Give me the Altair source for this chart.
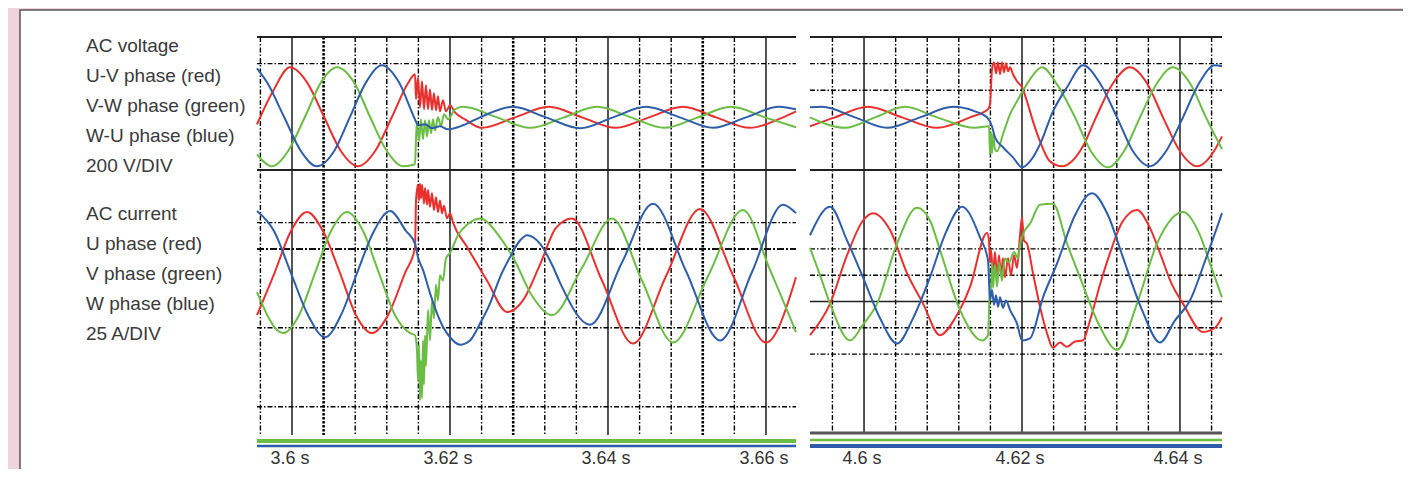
import altair as alt
import pandas as pd

PINK = "#efd3dd"
RED, GREEN, BLUE = "#e8312f", "#6cbd45", "#2e5ea9"
FONT = "Liberation Sans"

# ---------------- data ----------------
left_time_domain = [3.59557, 3.66380]     # s
right_time_domain = [4.59316, 4.64532]    # s
voltage_domain = [-400, 600]              # V  (200 V/DIV)
current_domain = [-150, 100]              # A  (25 A/DIV)

voltage_labels = ["AC voltage", "U-V phase (red)", "V-W phase (green)", "W-U phase (blue)", "200 V/DIV"]
current_labels = ["AC current", "U phase (red)", "V phase (green)", "W phase (blue)", "25 A/DIV"]

left_ticks = [3.60, 3.62, 3.64, 3.66]
left_tick_labels = ["3.6 s", "3.62 s", "3.64 s", "3.66 s"]
right_ticks = [4.60, 4.62, 4.64]
right_tick_labels = ["4.6 s", "4.62 s", "4.64 s"]
left_minor = [3.596, 3.608, 3.612, 3.616, 3.624, 3.632, 3.636, 3.644, 3.648, 3.656]
left_heavy = [3.604, 3.628, 3.652]
right_minor = [4.596, 4.604, 4.608, 4.612, 4.616, 4.624, 4.628, 4.632, 4.636, 4.644]

# left window, AC voltage (t [s], V)
lv_red = [(3.59557, -56), (3.59759, 192), (3.59975, 372), (3.60190, 259), (3.60405, 0), (3.60620, -259),
          (3.60835, -372), (3.61051, -259), (3.61266, 0), (3.61468, 252), (3.61557, 320), (3.61570, 132),
          (3.61595, 297), (3.61620, 71), (3.61646, 267), (3.61671, 56), (3.61696, 237), (3.61722, 56),
          (3.61747, 207), (3.61772, 49), (3.61797, 177), (3.61823, 49), (3.61848, 154), (3.61873, 41),
          (3.61911, 124), (3.61949, 41), (3.62000, 86), (3.62063, 34), (3.62190, -19), (3.62405, -83),
          (3.62823, -4), (3.63253, 75), (3.63671, -4), (3.64101, -83), (3.64519, -4), (3.64949, 75),
          (3.65367, -4), (3.65797, -83), (3.66215, -4), (3.66380, 41)]
lv_green = [(3.59557, -282), (3.59747, -372), (3.59949, -259), (3.60165, 0), (3.60367, 259), (3.60570, 372),
            (3.60785, 259), (3.60987, 0), (3.61203, -259), (3.61405, -372), (3.61557, -357), (3.61570, -169),
            (3.61582, -34), (3.61608, -184), (3.61633, -19), (3.61658, -169), (3.61684, -26), (3.61709, -147),
            (3.61734, -26), (3.61759, -124), (3.61785, -19), (3.61810, -102), (3.61848, -4), (3.61886, -71),
            (3.61924, 19), (3.61975, -19), (3.62063, 56), (3.62165, 75), (3.62595, -4), (3.63013, -83),
            (3.63443, -4), (3.63861, 75), (3.64291, -4), (3.64709, -83), (3.65139, -4), (3.65557, 75),
            (3.65987, -4), (3.66380, -79)]
lv_blue = [(3.59557, 365), (3.59684, 259), (3.59899, 0), (3.60114, -259), (3.60316, -372), (3.60532, -259),
           (3.60734, 0), (3.60937, 259), (3.61139, 387), (3.61354, 259), (3.61557, -19), (3.61595, -64),
           (3.61684, -56), (3.61772, -86), (3.61873, -71), (3.61975, -94), (3.62165, -64), (3.62380, -4),
           (3.62797, 75), (3.63215, -4), (3.63646, -86), (3.64063, -4), (3.64481, 75), (3.64911, -4),
           (3.65329, -83), (3.65747, -4), (3.66165, 75), (3.66380, 56)]

# left window, AC current (t [s], A)
li_red = [(3.59557, -38), (3.59778, 2), (3.59987, 42), (3.60190, 60), (3.60392, 42), (3.60608, 2),
          (3.60810, -38), (3.61013, -55), (3.61215, -38), (3.61430, 2), (3.61557, 26), (3.61570, 71),
          (3.61595, 86), (3.61608, 71), (3.61620, 87), (3.61633, 73), (3.61646, 86), (3.61671, 68),
          (3.61684, 83), (3.61709, 67), (3.61722, 81), (3.61747, 65), (3.61772, 78), (3.61797, 62),
          (3.61823, 74), (3.61848, 60), (3.61873, 71), (3.61899, 59), (3.61924, 66), (3.61962, 54),
          (3.62000, 59), (3.62038, 50), (3.62215, 27), (3.62468, -5), (3.62722, -35), (3.62924, -24),
          (3.63139, 10), (3.63342, 45), (3.63544, 54), (3.63924, -5), (3.64316, -65), (3.64734, -1),
          (3.65165, 63), (3.65582, 0), (3.66000, -64), (3.66380, -2)]
li_green = [(3.59557, -16), (3.59886, -55), (3.60089, -38), (3.60291, 2), (3.60494, 42), (3.60696, 60),
            (3.60899, 42), (3.61101, 2), (3.61304, -38), (3.61494, -55), (3.61557, -57), (3.61582, -71),
            (3.61595, -100), (3.61608, -66), (3.61620, -119), (3.61633, -81), (3.61646, -117), (3.61658, -62),
            (3.61671, -104), (3.61684, -57), (3.61696, -86), (3.61722, -33), (3.61747, -62), (3.61772, -24),
            (3.61797, -41), (3.61823, -9), (3.61848, -24), (3.61873, 0), (3.61911, -5), (3.61949, 16),
            (3.62000, 21), (3.62101, 38), (3.62215, 48), (3.62380, 54), (3.62633, 36), (3.62797, 17),
            (3.63051, -21), (3.63291, -38), (3.63671, 7), (3.64051, 54), (3.64430, -5), (3.64823, -64),
            (3.65266, -1), (3.65709, 62), (3.66051, 5), (3.66380, -54)]
li_blue = [(3.59557, 61), (3.59772, 42), (3.59987, 2), (3.60203, -38), (3.60418, -59), (3.60620, -38),
           (3.60823, 2), (3.61038, 42), (3.61241, 61), (3.61443, 42), (3.61557, 30), (3.61595, 17),
           (3.61658, 5), (3.61747, -17), (3.61835, -36), (3.61911, -49), (3.62000, -59), (3.62127, -66),
           (3.62253, -62), (3.62380, -46), (3.62506, -27), (3.62633, -2), (3.62759, 17), (3.62886, 33),
           (3.62975, 38), (3.63139, 30), (3.63304, 8), (3.63392, -7), (3.63772, -47), (3.64177, 12),
           (3.64570, 68), (3.64987, 4), (3.65418, -62), (3.65823, 3), (3.66215, 67), (3.66380, 59)]

# right window, AC voltage
rv_red = [(4.59316, -71), (4.59633, -4), (4.60051, 75), (4.60481, -4), (4.60924, -83), (4.61342, -4),
          (4.61570, 56), (4.61595, 94), (4.61620, 357), (4.61646, 410), (4.61671, 327), (4.61696, 410),
          (4.61722, 320), (4.61747, 410), (4.61772, 335), (4.61797, 402), (4.61823, 342), (4.61848, 372),
          (4.61886, 320), (4.61937, 267), (4.62000, 222), (4.62063, 117), (4.62139, -34), (4.62228, -184),
          (4.62354, -335), (4.62506, -372), (4.62772, -222), (4.62937, -4), (4.63152, 252), (4.63367, 372),
          (4.63582, 252), (4.63785, -4), (4.64000, -259), (4.64215, -372), (4.64430, -259), (4.64532, -147)]
rv_green = [(4.59316, -4), (4.59759, -83), (4.60139, -4), (4.60519, 75), (4.60924, -4), (4.61405, -83),
            (4.61582, -71), (4.61595, -282), (4.61608, -116), (4.61620, -274), (4.61633, -131), (4.61658, -244),
            (4.61684, -259), (4.61759, -131), (4.61848, 19), (4.61937, 117), (4.62000, 184), (4.62101, 282),
            (4.62253, 372), (4.62443, 244), (4.62671, -4), (4.62873, -259), (4.63089, -380), (4.63291, -259),
            (4.63494, -4), (4.63709, 252), (4.63911, 372), (4.64127, 252), (4.64329, -4), (4.64532, -244)]
rv_blue = [(4.59316, 71), (4.59468, 75), (4.59886, -4), (4.60291, -83), (4.60709, -4), (4.61127, 75),
           (4.61405, 41), (4.61557, -4), (4.61620, -71), (4.61658, -154), (4.61759, -229), (4.61886, -305),
           (4.62000, -380), (4.62101, -335), (4.62228, -207), (4.62392, 41), (4.62570, 222), (4.62772, 387),
           (4.62987, 252), (4.63203, -4), (4.63405, -259), (4.63620, -372), (4.63823, -259), (4.64038, -4),
           (4.64241, 252), (4.64443, 387), (4.64532, 380)]

# right window, AC current
ri_red = [(4.59316, -57), (4.59570, -27), (4.59785, 19), (4.59987, 52), (4.60114, 59), (4.60329, 43),
          (4.60544, 2), (4.60747, -27), (4.60962, -57), (4.61152, -41), (4.61342, -11), (4.61557, 40),
          (4.61582, 33), (4.61595, 12), (4.61608, 24), (4.61633, 0), (4.61658, 22), (4.61684, -2),
          (4.61709, 19), (4.61734, 0), (4.61759, 16), (4.61785, -2), (4.61823, 16), (4.61861, 0),
          (4.61899, 19), (4.61937, 7), (4.61975, 38), (4.62000, 55), (4.62025, 33), (4.62063, 30),
          (4.62139, 2), (4.62228, -30), (4.62316, -55), (4.62392, -69), (4.62481, -64), (4.62570, -68),
          (4.62671, -63), (4.62772, -62), (4.62861, -43), (4.62987, -9), (4.63114, 21), (4.63266, 50),
          (4.63456, 62), (4.63620, 45), (4.63747, 21), (4.63899, -9), (4.64038, -27), (4.64291, -54),
          (4.64443, -50), (4.64532, -40)]
ri_green = [(4.59316, 26), (4.59443, 0), (4.59570, -27), (4.59823, -62), (4.59987, -47), (4.60165, -27),
            (4.60418, 30), (4.60671, 64), (4.60835, 52), (4.60962, 24), (4.61215, -33), (4.61494, -62),
            (4.61570, -57), (4.61595, -9), (4.61608, -14), (4.61620, 12), (4.61633, -12), (4.61658, 10),
            (4.61684, -11), (4.61709, 12), (4.61747, -5), (4.61785, 16), (4.61835, 12), (4.61899, 22),
            (4.61949, 16), (4.61975, 29), (4.62025, 41), (4.62101, 49), (4.62228, 67), (4.62392, 68),
            (4.62570, 30), (4.62734, -2), (4.62987, -49), (4.63203, -71), (4.63456, -27), (4.63709, 30),
            (4.64038, 60), (4.64253, 38), (4.64380, 11), (4.64532, -21)]
ri_blue = [(4.59316, 38), (4.59570, 65), (4.59785, 33), (4.59987, -2), (4.60203, -41), (4.60418, -65),
           (4.60620, -41), (4.60835, -2), (4.61038, 41), (4.61241, 65), (4.61468, 36), (4.61570, 14),
           (4.61595, -24), (4.61620, -14), (4.61646, -28), (4.61671, -19), (4.61696, -30), (4.61722, -21),
           (4.61759, -31), (4.61797, -24), (4.61848, -33), (4.61937, -46), (4.62000, -62), (4.62101, -60),
           (4.62266, -21), (4.62443, 11), (4.62671, 57), (4.62886, 78), (4.63089, 57), (4.63278, 17),
           (4.63519, -33), (4.63747, -64), (4.63937, -43), (4.64127, -24), (4.64329, 16), (4.64532, 59)]

# grid levels (in V / A)
left_v_solid = [600, -400]
left_v_dash = [400]
left_i_dash = [50, -50, -125]
left_i_dashdot = [25]
right_v_solid = [600, -400]
right_v_dash = [400, 200]
right_i_dash = [25, 0, -50, -75]
right_i_solid = [-25]
right_i_bottom = [-150]

# ---------------- scales (pixel placement) ----------------
def sc(domain, rng):
    return alt.Scale(domain=domain, range=rng, nice=False, zero=False)

LX = sc(left_time_domain, [249, 788])
RX = sc(right_time_domain, [802, 1214])
VY = sc(voltage_domain, [162, 29])
IY = sc(current_domain, [425, 162])

PH = alt.Scale(domain=["U", "V", "W"], range=[RED, GREEN, BLUE])


def traces(red, green, blue, xs, ys):
    rows = []
    for ph, pts in (("U", red), ("V", green), ("W", blue)):
        for i, (t, v) in enumerate(pts):
            rows.append({"t": t, "v": v, "phase": ph, "i": i})
    return alt.Chart(pd.DataFrame(rows)).mark_line(
        strokeWidth=2, interpolate="monotone", strokeJoin="round"
    ).encode(
        x=alt.X("t:Q", scale=xs, axis=None),
        y=alt.Y("v:Q", scale=ys, axis=None),
        color=alt.Color("phase:N", scale=PH, legend=None),
        detail="phase:N",
        order="i:Q",
    )


def vrules(times, xs, y0, y1, **style):
    return alt.Chart(pd.DataFrame({"t": times})).mark_rule(**style).encode(
        x=alt.X("t:Q", scale=xs, axis=None), y=alt.value(y0), y2=alt.value(y1))


def hrules(levels, dom, xs, ys, **style):
    df = pd.DataFrame({"lvl": levels, "t0": dom[0], "t1": dom[1]})
    return alt.Chart(df).mark_rule(**style).encode(
        x=alt.X("t0:Q", scale=xs, axis=None), x2="t1:Q",
        y=alt.Y("lvl:Q", scale=ys, axis=None))


def bar(dom, xs, y, color, width):
    df = pd.DataFrame({"t0": [dom[0]], "t1": [dom[1]]})
    return alt.Chart(df).mark_rule(color=color, strokeWidth=width).encode(
        x=alt.X("t0:Q", scale=xs, axis=None), x2="t1:Q", y=alt.value(y))


def ticklabels(ticks, labels, xs):
    df = pd.DataFrame({"t": ticks, "lab": labels})
    return alt.Chart(df).mark_text(font=FONT, fontSize=18, color="#333", align="center",
                                   baseline="alphabetic", dx=-2).encode(
        x=alt.X("t:Q", scale=xs, axis=None), y=alt.value(456), text="lab:N")


SOLID = dict(color="#2a2a2a", strokeWidth=1.6)
DASHV = dict(color="#000", strokeWidth=1.4, strokeDash=[5, 2, 1.5, 2])
HEAVYV = dict(color="#000", strokeWidth=2.6, strokeDash=[2.5, 1.5])
DASHH = dict(color="#000", strokeWidth=1.4, strokeDash=[5, 2, 1.5, 2])

box = alt.Chart(pd.DataFrame({"a": [0]})).mark_rect(
    fill="white", stroke="#555", strokeWidth=1.5).encode(
    x=alt.value(12), x2=alt.value(1430), y=alt.value(2), y2=alt.value(490))

label_rows = pd.DataFrame({
    "lab": voltage_labels + current_labels,
    "slot": [0, 1, 2, 3, 4, 5.6, 6.6, 7.6, 8.6, 9.6],
})
labels = alt.Chart(label_rows).mark_text(
    font=FONT, fontSize=19, color="#3a3a3a", align="left", baseline="alphabetic").encode(
    x=alt.value(78),
    y=alt.Y("slot:Q", scale=sc([0, 9.6], [44, 332]), axis=None),
    text="lab:N")

layers = [
    box, labels,
    # left grid
    vrules(left_minor, LX, 29, 427, **DASHV),
    vrules(left_heavy, LX, 29, 427, **HEAVYV),
    vrules(left_ticks, LX, 29, 427, **SOLID),
    hrules(left_v_dash, left_time_domain, LX, VY, **DASHH),
    hrules(left_i_dash, left_time_domain, LX, IY, **DASHH),
    hrules(left_i_dashdot, left_time_domain, LX, IY, color="#111", strokeWidth=2, strokeDash=[7, 2, 2, 2]),
    hrules(left_v_solid, left_time_domain, LX, VY, color="#222", strokeWidth=2),
    # right grid
    vrules(right_minor, RX, 29, 425, **DASHV),
    vrules(right_ticks, RX, 29, 425, **SOLID),
    hrules(right_v_dash, right_time_domain, RX, VY, **DASHH),
    hrules(right_i_dash, right_time_domain, RX, IY, **DASHH),
    hrules(right_i_solid, right_time_domain, RX, IY, color="#222", strokeWidth=1.6),
    hrules(right_v_solid, right_time_domain, RX, VY, color="#222", strokeWidth=2),
    hrules(right_i_bottom, right_time_domain, RX, IY, color="#555", strokeWidth=3),
    # channel bars
    bar(left_time_domain, LX, 433, GREEN, 4),
    bar(left_time_domain, LX, 438, BLUE, 2.5),
    bar(right_time_domain, RX, 432, GREEN, 2.5),
    bar(right_time_domain, RX, 438, BLUE, 4),
    # waveforms
    traces(lv_red, lv_green, lv_blue, LX, VY),
    traces(li_red, li_green, li_blue, LX, IY),
    traces(rv_red, rv_green, rv_blue, RX, VY),
    traces(ri_red, ri_green, ri_blue, RX, IY),
    # time labels
    ticklabels(left_ticks, left_tick_labels, LX),
    ticklabels(right_ticks, right_tick_labels, RX),
]

chart = alt.layer(*layers).resolve_scale(
    x="independent", y="independent", color="independent"
).properties(
    width=1395, height=461, autosize=alt.AutoSizeParams(type="none"), padding=0, background=PINK
).configure_view(strokeWidth=0)

chart.save("out.html", embed_options={"renderer": "svg", "actions": False})
